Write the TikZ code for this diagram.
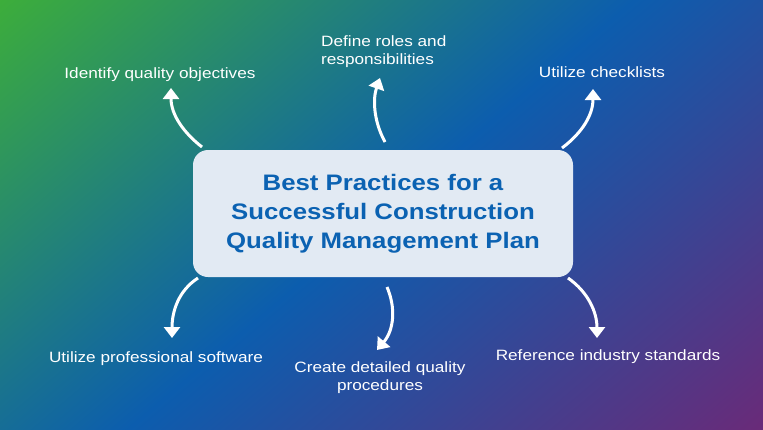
\documentclass[tikz,border=0pt]{standalone}
\usepackage{fontspec}
\setmainfont{Liberation Sans}[FakeStretch=1.15]
\usetikzlibrary{arrows.meta}
\definecolor{boxfill}{HTML}{E2EAF3}
\definecolor{titleblue}{HTML}{0B62B2}
\definecolor{basebg}{HTML}{1E5FAE}
\pgfdeclarefunctionalshading{bgshade}{\pgfpoint{0bp}{0bp}}{\pgfpoint{767bp}{433bp}}{}{
 433 exch sub 433 div 0.4 mul exch 767 div 0.6 mul add
 dup 0.5 lt
 { 0.5 div dup dup -0.192 mul 0.239 add 3 1 roll -0.317 mul 0.682 add exch 0.455 mul 0.227 add }
 { 0.5 sub 0.5 div dup dup 0.369 mul 0.047 add 3 1 roll -0.2 mul 0.365 add exch -0.211 mul 0.682 add }
 ifelse
}
\tikzset{
  lab/.style={text=white, font=\fontsize{15}{18}\selectfont, inner sep=0pt},
  titlebox/.style={fill=boxfill, rounded corners=15bp, minimum width=380bp, minimum height=127bp,
    text=titleblue, align=center, inner sep=0pt, font=\fontsize{22.5}{29}\selectfont\bfseries},
  arr/.style={white, line width=3bp, -{Triangle[width=16bp,length=11bp]}}
}
\begin{document}
\begin{tikzpicture}[x=1bp,y=-1bp]
\useasboundingbox (0,0) rectangle (763,429);
\begin{scope}
\clip (0,0) rectangle (763,429);
\fill[basebg] (-2,-2) rectangle (765,431);
\node[inner sep=0pt, outer sep=0pt, anchor=north west] (bg) at (-2,-2) {\pgfuseshading{bgshade}};
\end{scope}
\node[titlebox] (box) at (383,213.5) {Best Practices for a\\Successful Construction\\Quality Management Plan};
% labels
\node[lab, anchor=base] (l1) at (160,78) {Identify quality objectives};
\node[lab, anchor=west, align=left] (l2) at (321,52) {Define roles and\\responsibilities};
\node[lab, anchor=base] (l3) at (602,77) {Utilize checklists};
\node[lab, anchor=base] (l4) at (156,362) {Utilize professional software};
\node[lab, anchor=center, align=center] (l5) at (380,378) {Create detailed quality\\procedures};
\node[lab, anchor=base] (l6) at (608,360) {Reference industry standards};
% arrow ends
\coordinate (s1) at (202,147); \coordinate (e1) at (171,88);
\coordinate (s2) at (385,142); \coordinate (e2) at (380,78);
\coordinate (s3) at (562,148); \coordinate (e3) at (593,89);
\coordinate (s4) at (198,278); \coordinate (e4) at (172,338);
\coordinate (s5) at (387,287); \coordinate (e5) at (377,350);
\coordinate (s6) at (568,278); \coordinate (e6) at (597,338);
\draw[arr] (s1) .. controls (184,133) and (171,115) .. (e1);
\draw[arr] (s2) .. controls (373,120) and (373,98) .. (e2);
\draw[arr] (s3) .. controls (582,133) and (593,115) .. (e3);
\draw[arr] (s4) .. controls (178,291) and (172,312) .. (e4);
\draw[arr] (s5) .. controls (396,308) and (394,330) .. (e5);
\draw[arr] (s6) .. controls (588,292) and (597,312) .. (e6);
\end{tikzpicture}
\end{document}
